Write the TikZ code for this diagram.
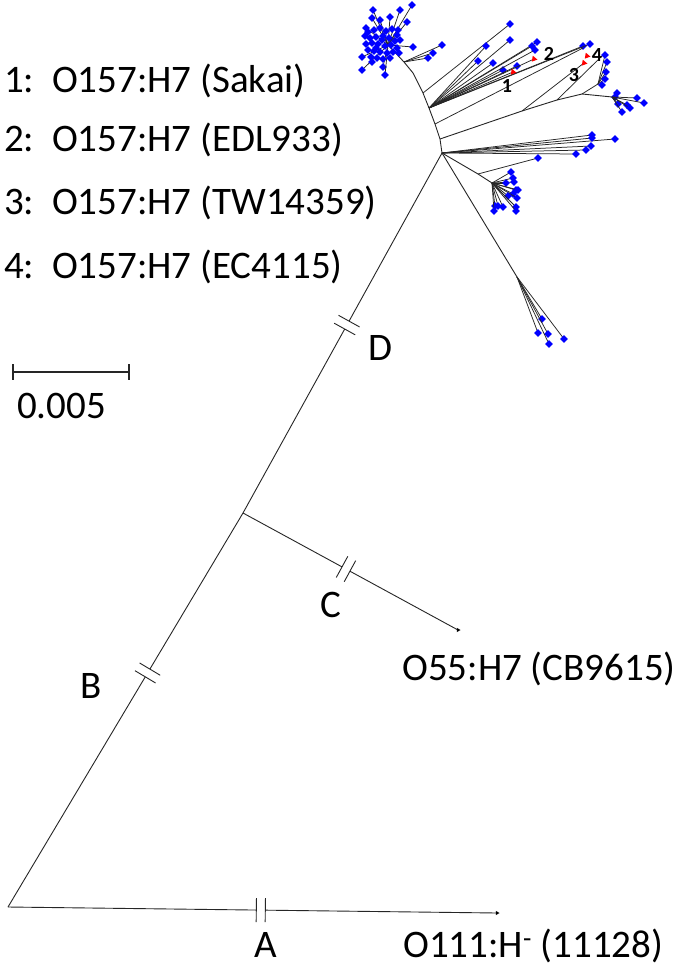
\documentclass[tikz,border=0pt]{standalone}
\usepackage{fontspec}
\setmainfont{Carlito}
\usetikzlibrary{calc,shapes.geometric}
\newcommand\brokenline[3]{%
  \coordinate (bm) at ($(#1)!#3!(#2)$);
  \coordinate (b0) at ($(bm)!4.5pt!(#1)$);
  \coordinate (b1) at ($(bm)!4.5pt!(#2)$);
  \draw[br] (#1) -- (b0) (b1) -- (#2);
  \draw[br] ($(b0)!12pt!90:(#1)$) -- ($(b0)!12pt!-90:(#1)$);
  \draw[br] ($(b1)!12pt!90:(#2)$) -- ($(b1)!12pt!-90:(#2)$);
}
\newcommand\fan[2]{%
  \foreach \q [count=\k] in {#2} {\draw[tw] (#1) -- \q; \node[leaf] (#1-l\k) at \q {};}
}
\begin{document}
\begin{tikzpicture}[x=1pt,y=-1pt,
  br/.style={draw=black!85, line width=0.9pt},
  tw/.style={draw=black!85, line width=0.75pt},
  leaf/.style={diamond, fill=blue, inner sep=0pt, minimum size=8pt},
  redm/.style={regular polygon, regular polygon sides=3, fill=red, inner sep=0pt, minimum size=7pt},
  tipm/.style={regular polygon, regular polygon sides=3, fill=black, inner sep=0pt, minimum size=5pt},
  lbl/.style={font=\fontsize{39}{44}\selectfont, inner sep=0pt},
  num/.style={font=\fontsize{20}{24}\selectfont\bfseries, inner sep=0pt}]
\path[use as bounding box, fill=white] (0,0) rectangle (675,973);

% ---- backbone
\coordinate (root) at (8,907);
\coordinate (tA) at (497,913);
\coordinate (jc) at (243,513);
\coordinate (tC) at (458,630);
\coordinate (hub) at (442,153);
\brokenline{root}{tA}{0.517}
\brokenline{root}{jc}{0.594}
\brokenline{jc}{tC}{0.479}
\brokenline{jc}{hub}{0.522}
\node[tipm, rotate=30] (tipA) at (tA) {};
\node[tipm, rotate=30] (tipC) at (tC) {};

% ---- stem from hub to top-left cluster
\coordinate (c0) at (388,45);
\coordinate (s1) at (404,62);
\coordinate (s3) at (423,93);
\coordinate (s4) at (429,108);
\coordinate (s5) at (435,124);
\coordinate (s6) at (440,139);
\draw[br] (hub) -- (s6) -- (s5) -- (s4) -- (s3) -- (413,73) -- (s1) -- (c0);

% top-left cluster
\fan{c0}{(373,10),(412,5),(400,10),(372,18),(390,17),(407,22),(398,30),(413,47),(362,57),(362,70),(383,67),(385,75),(380,20),(366,28)}
\foreach \p [count=\i] in {(368,32),(374,30),(380,28),(386,31),(392,29),(397,35),(370,38),(376,37),(383,36),(389,38),(395,41),(400,40),(366,44),(372,43),(378,44),(385,46),(391,45),(397,48),(368,50),(374,51),(380,52),(387,53),(393,52),(371,57),(377,58),(383,59),(390,58),(365,36),(399,53),(382,40),(376,48),(372,62)}
  {\node[leaf] (blob\i) at \p {};}
\fan{s1}{(428,58),(433,53),(442,45)}

% upper fan
\fan{s3}{(510,24)}
\fan{s4}{(510,40),(486,46),(478,61),(493,63),(503,70),(517,66),(537,42),(535,50),(532,46),(583,46),(590,44)}
\draw[tw] (s4) -- (513,72);
\draw[tw] (s4) -- (534,59);
\draw[tw] (s5) -- (583,48);

% lower right fan
\coordinate (L1) at (522,111);
\coordinate (L2) at (557,100);
\coordinate (L3) at (582,94);
\coordinate (L4) at (612,97);
\coordinate (L5) at (598,84);
\draw[br] (s6) -- (L1) -- (L2) -- (L3) -- (L4);
\draw[tw] (L1) -- (584,63);
\draw[tw] (L2) -- (603,55);
\draw[tw] (L3) -- (L5);
\fan{L5}{(605,55),(607,62),(606,72),(605,79),(602,85)}
\fan{L4}{(617,93),(615,97),(618,104),(622,112),(627,105),(630,108),(637,98),(644,103)}

% red markers and labels
\node[redm, rotate=20] (r1) at (513,72) {};
\node[redm, rotate=20] (r2) at (534,59) {};
\node[redm, rotate=20] (r3) at (584,63) {};
\node[redm, rotate=20] (r4) at (587,56) {};
\node[num] (n1) at (507,86) {1};
\node[num] (n2) at (549,54) {2};
\node[num] (n3) at (574,75) {3};
\node[num] (n4) at (597,55) {4};

% hub fans
\fan{hub}{(615,139),(592,135),(592,138),(591,146),(586,150),(576,154)}
\coordinate (h1) at (478,174);
\coordinate (h2) at (492,183);
\coordinate (h3) at (517,277);
\draw[br] (hub) -- (h1) -- (h2);
\fan{h1}{(538,158)}
\fan{h2}{(511,172),(513,178),(514,182),(506,183),(516,190),(513,194),(518,190),(517,198),(508,196),(495,206),(494,211),(498,206),(503,207),(516,207),(516,211)}
\draw[br] (hub) -- (h3);
\fan{h3}{(542,319),(538,333),(548,334),(549,344),(564,339)}

% ---- scale bar
\coordinate (sb0) at (13,372);
\coordinate (sb1) at (129,372);
\draw[br, line width=1.1pt] (sb0) -- (sb1) (13,364) -- (13,380) (129,364) -- (129,380);
\node[lbl, anchor=base west] (scl) at (17,418) {0.005};

% ---- legend
\node[lbl, anchor=base west] (lg1) at (4,93) {1:\ \ O157:H7 (Sakai)};
\node[lbl, anchor=base west] (lg2) at (4,152) {2:\ \ O157:H7 (EDL933)};
\node[lbl, anchor=base west] (lg3) at (4,215) {3:\ \ O157:H7 (TW14359)};
\node[lbl, anchor=base west] (lg4) at (4,278) {4:\ \ O157:H7 (EC4115)};

% ---- branch labels
\node[lbl, anchor=base] (lA) at (266,957) {A};
\node[lbl, anchor=base] (lB) at (91,698) {B};
\node[lbl, anchor=base] (lC) at (331,617) {C};
\node[lbl, anchor=base] (lD) at (380,360) {D};
\node[lbl, anchor=base west] (o55) at (402,680) {O55:H7 (CB9615)};
\node[lbl, anchor=base west] (o111) at (403,957) {O111:H\textsuperscript{-} (11128)};
\end{tikzpicture}
\end{document}
